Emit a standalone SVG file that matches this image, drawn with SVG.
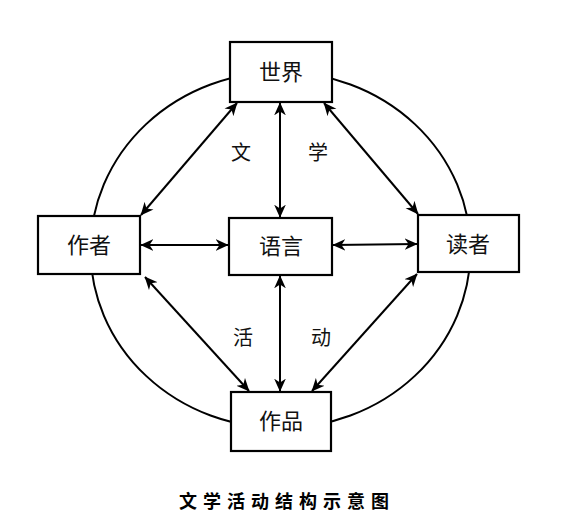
<svg xmlns="http://www.w3.org/2000/svg" width="561" height="532" viewBox="0 0 561 532">
<style>
.box{fill:#fff;stroke:#000;stroke-width:2.2}
.t{font-family:"Noto Sans CJK SC","Liberation Sans",sans-serif;font-size:22px;fill:#111;text-anchor:middle}
.lbl{font-family:"Noto Sans CJK SC","Liberation Sans",sans-serif;font-size:20px;fill:#111;text-anchor:middle}
.cap{font-family:"Noto Sans CJK SC","Liberation Sans",sans-serif;font-size:18px;font-weight:bold;letter-spacing:6px;fill:#000;text-anchor:middle}
.c{fill:none;stroke:#000;stroke-width:2}
.a{stroke:#000;stroke-width:2;fill:none;marker-start:url(#h);marker-end:url(#h)}
</style>
<defs>
<marker id="h" viewBox="0 0 10 10" refX="9.5" refY="5" markerWidth="6.5" markerHeight="6.5" orient="auto-start-reverse" markerUnits="strokeWidth">
<path d="M0,0.5 L10,5 L0,9.5 L3,5 z" fill="#000"/>
</marker>
</defs>
<ellipse class="c" cx="280.5" cy="250" rx="190" ry="178"/>
<g id="connectors">
<line class="a" x1="280" y1="103" x2="280" y2="217"/>
<line class="a" x1="280" y1="276" x2="280" y2="391"/>
<line class="a" x1="141" y1="245" x2="228" y2="245"/>
<line class="a" x1="333" y1="245" x2="417" y2="244"/>
<line class="a" x1="237" y1="103" x2="141" y2="215"/>
<line class="a" x1="324" y1="103" x2="418" y2="214"/>
<line class="a" x1="145" y1="277" x2="249" y2="391"/>
<line class="a" x1="417" y1="274" x2="312" y2="391"/>
</g>
<g id="world"><rect class="box" x="230" y="42" width="102" height="60"/><text class="t" x="281" y="80">世界</text></g>
<g id="author"><rect class="box" x="38" y="216" width="102" height="58"/><text class="t" x="89" y="253">作者</text></g>
<g id="language"><rect class="box" x="229" y="218" width="103" height="57"/><text class="t" x="281" y="254">语言</text></g>
<g id="reader"><rect class="box" x="418" y="215" width="101" height="57"/><text class="t" x="468" y="252">读者</text></g>
<g id="work"><rect class="box" x="231" y="392" width="100" height="59"/><text class="t" x="281" y="429">作品</text></g>
<g id="labels">
<text class="lbl" x="241" y="160">文</text>
<text class="lbl" x="318" y="160">学</text>
<text class="lbl" x="243" y="345">活</text>
<text class="lbl" x="321" y="345">动</text>
</g>
<text class="cap" x="287" y="508">文学活动结构示意图</text>
</svg>
